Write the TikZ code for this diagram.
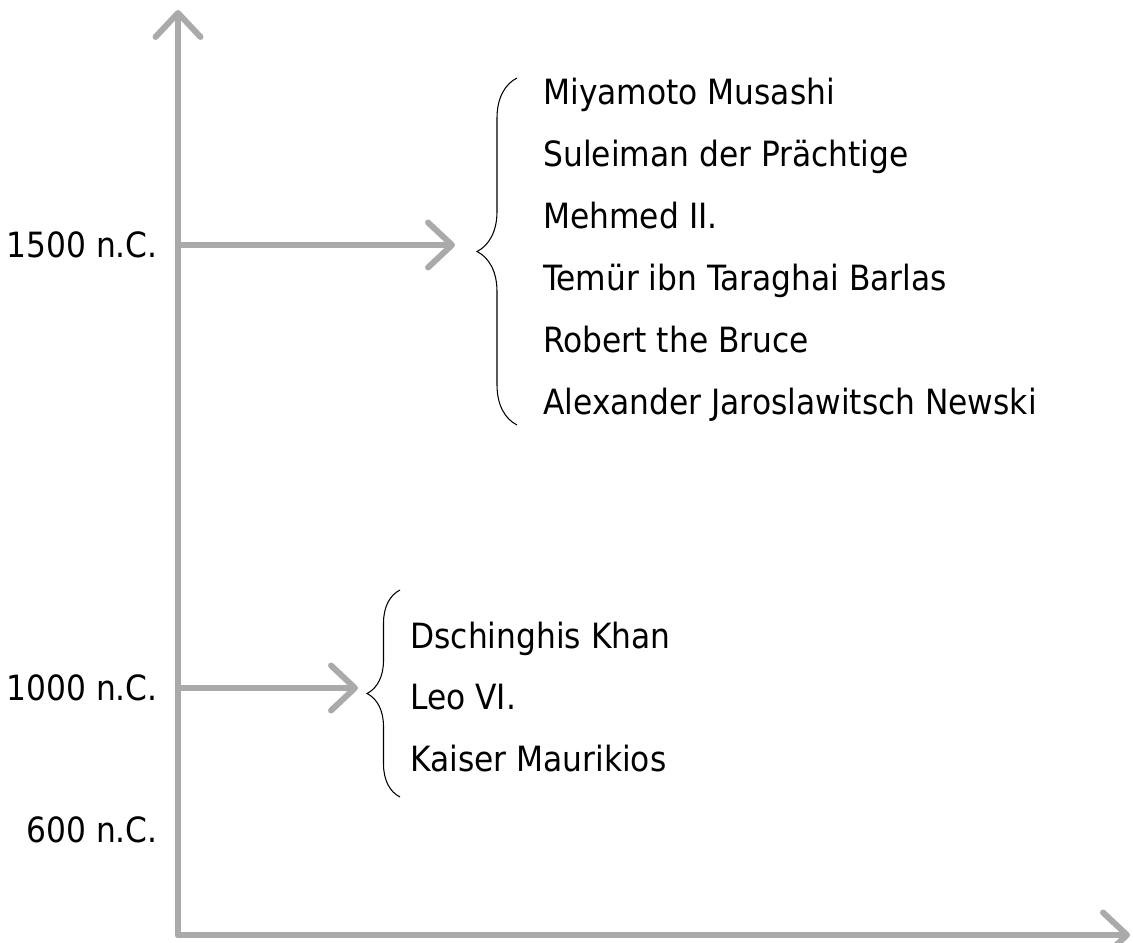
\documentclass[tikz,border=0pt]{standalone}
\usepackage{fontspec}
\setmainfont{DejaVu Sans Condensed}
\usepackage{tikz}
\usetikzlibrary{arrows.meta,decorations.pathreplacing}

\definecolor{axisgray}{RGB}{170,170,170}
\tikzset{
  axisline/.style={draw=axisgray,line width=3.4pt,line cap=round,
    -{Straight Barb[length=4.8mm,width=9mm,line cap=round,line join=round]}},
  yearlabel/.style={anchor=base east,font=\fontsize{19.8}{24}\selectfont,inner sep=0pt,yshift=-0.25cm},
  namelabel/.style={anchor=base west,font=\fontsize{19.8}{24}\selectfont,inner sep=0pt,yshift=-0.25cm},
  bracebar/.style={draw=black,line width=0.6pt,decorate,decoration={brace,amplitude=#1}}
}

\begin{document}
\begin{tikzpicture}
          \useasboundingbox (0,0) rectangle (22.66,18.84);
          \coordinate (origin) at (3.56,0.14);
          \coordinate (ytop) at (3.56,18.64);
          \coordinate (xend) at (22.6,0.14);
          \coordinate (y1500) at (3.56,13.94);
          \coordinate (y1000) at (3.56,5.08);
          \coordinate (tip1500) at (9.1,13.94);
          \coordinate (tip1000) at (7.16,5.08);
          \draw[axisline] (origin) -- (ytop);
          \draw[axisline] (origin) -- (xend);
          \draw[axisline] (y1500) -- (tip1500);
          \draw[axisline] (y1000) -- (tip1000);
          \node[yearlabel] (l1500) at (3.16,13.94) {1500 n.C.};
          \node[yearlabel] (l1000) at (3.16,5.08)  {1000 n.C.};
          \node[yearlabel] (l600)  at (3.16,2.24)  {600 n.C.};
          \draw[bracebar=0.8cm] (10.34,10.34) -- (10.34,17.28);   % 1500
          \draw[bracebar=0.66cm] (8.0,2.9) -- (8.0,7.04);         % 1000
          \node[namelabel] (musashi)   at (10.86,17.0)  {Miyamoto Musashi};
          \node[namelabel] (suleiman)  at (10.86,15.76) {Suleiman der Prächtige};
          \node[namelabel] (mehmed)    at (10.86,14.52) {Mehmed II.};
          \node[namelabel] (temur)     at (10.86,13.28) {Temür ibn Taraghai Barlas};
          \node[namelabel] (bruce)     at (10.86,12.04) {Robert the Bruce};
          \node[namelabel] (newski)    at (10.86,10.8)  {Alexander Jaroslawitsch Newski};
          \node[namelabel] (khan)      at (8.2,6.12)    {Dschinghis Khan};
          \node[namelabel] (leo)       at (8.2,4.9)     {Leo VI.};
          \node[namelabel] (maurikios) at (8.2,3.66)    {Kaiser Maurikios};
        \end{tikzpicture}
\end{document}
